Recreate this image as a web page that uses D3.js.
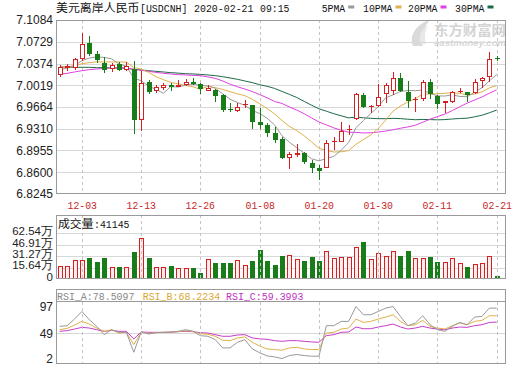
<!DOCTYPE html>
<html><head><meta charset="utf-8">
<script src="https://cdn.jsdelivr.net/npm/d3@7"></script>
<style>body{margin:0;background:#fff}svg{display:block}</style>
</head><body>
<svg id="c" width="520" height="365"></svg>
<script>
// ---------- data ----------
const tickIdx = [3, 11, 19, 27, 35, 43, 51, 59];
const tickLabels = ["12-03","12-13","12-26","01-08","01-20","01-30","02-11","02-21"];
const priceTicks = [7.1084,7.0729,7.0374,7.0019,6.9664,6.9310,6.8955,6.8600,6.8245];
const priceTickLabels = ["7.1084","7.0729","7.0374","7.0019","6.9664","6.9310","6.8955","6.8600","6.8245"];
const volTicks = [0,156350,312700,469050,625400];
const volTickLabels = ["0","15.64万","31.27万","46.91万","62.54万"];
const rsiTicks = [97,49,2];
const rsiTickLabels = ["97","49","2"];

const open = [7.0187,7.0300,7.0295,7.0440,7.0714,7.0524,7.0388,7.0279,7.0366,7.0268,
7.0279,6.9452,7.0072,6.9926,6.9980,7.0018,6.9996,7.0023,7.0067,7.0034,
6.9925,6.9937,6.9855,6.9637,6.9605,6.9692,6.9692,6.9420,6.9376,6.9246,
6.9143,6.8833,6.8876,6.8920,6.8757,6.8664,6.8675,6.9099,6.9099,6.9290,
6.9469,6.9860,6.9665,6.9680,6.9877,6.9930,7.0132,6.9915,6.9780,6.9790,
7.0078,6.9845,6.9735,6.9752,6.9915,6.9915,6.9888,7.0094,7.0150,7.0459];
const high = [7.0344,7.0370,7.0460,7.0866,7.0823,7.0584,7.0486,7.0388,7.0404,7.0404,
7.0420,7.0257,7.0105,7.0023,7.0050,7.0050,7.0105,7.0116,7.0132,7.0050,
7.0018,6.9960,6.9877,6.9724,6.9735,6.9780,6.9700,6.9643,6.9398,6.9333,
6.9180,6.8936,6.9060,6.8936,6.8800,6.8718,6.9126,6.9180,6.9414,6.9371,
6.9890,6.9900,6.9692,7.0040,7.0060,7.0230,7.0225,7.0090,6.9823,7.0105,
7.0116,6.9860,6.9757,6.9930,6.9975,6.9915,7.0122,7.0160,7.0570,7.0497];
const low = [7.0160,7.0260,7.0270,7.0420,7.0497,7.0388,7.0225,7.0230,7.0257,7.0250,
6.9224,6.9278,6.9877,6.9898,6.9942,6.9931,6.9990,7.0012,7.0023,6.9877,
6.9920,6.9752,6.9590,6.9583,6.9590,6.9643,6.9300,6.9300,6.9180,6.9083,
6.8810,6.8658,6.8855,6.8735,6.8582,6.8473,6.8664,6.8963,6.9099,6.9208,
6.9450,6.9643,6.9561,6.9660,6.9725,6.9860,6.9915,6.9643,6.9590,6.9763,
6.9790,6.9627,6.9572,6.9735,6.9898,6.9752,6.9877,6.9970,7.0080,7.0420];
const close = [7.0323,7.0330,7.0442,7.0690,7.0529,7.0431,7.0268,7.0344,7.0268,7.0340,
6.9452,7.0062,6.9915,6.9985,7.0030,6.9996,7.0023,7.0078,7.0045,6.9953,
6.9980,6.9844,6.9616,6.9616,6.9670,6.9714,6.9425,6.9365,6.9235,6.9126,
6.8827,6.8898,6.8920,6.8773,6.8675,6.8626,6.9083,6.9115,6.9273,6.9306,
6.9877,6.9660,6.9680,6.9820,7.0023,7.0132,6.9930,6.9770,6.9800,7.0067,
6.9877,6.9714,6.9757,6.9904,6.9930,6.9860,7.0073,7.0132,7.0448,7.0455];
const volume = [174000,174000,254000,254000,286000,232000,286000,165000,161000,161000,
366000,558000,286000,161000,161000,174000,147000,147000,147000,80000,
277000,214000,214000,214000,263000,196000,246000,402000,241000,187000,
321000,335000,268000,241000,299000,241000,388000,286000,295000,299000,
442000,500000,268000,357000,321000,384000,308000,388000,286000,286000,
295000,228000,228000,281000,214000,161000,201000,223000,317000,41145];

const ma5 = [7.0270,7.0300,7.0340,7.0420,7.0463,7.0484,7.0472,7.0452,7.0368,7.0330,
7.0134,7.0093,7.0007,6.9951,6.9889,6.9998,6.9990,7.0022,7.0034,7.0019,
7.0007,6.9971,6.9879,6.9793,6.9737,6.9692,6.9608,6.9558,6.9482,6.9373,
6.9196,6.9090,6.9001,6.8909,6.8819,6.8786,6.8823,6.8859,6.8959,6.9085,
6.9328,6.9443,6.9559,6.9669,6.9812,6.9863,6.9917,6.9935,6.9931,6.9940,
6.9889,6.9846,6.9843,6.9864,6.9836,6.9833,6.9905,6.9980,7.0089,7.0194];
const ma10 = [7.0310,7.0320,7.0340,7.0370,7.0390,7.0400,7.0400,7.0400,7.0400,7.0397,
7.0309,7.0283,7.0230,7.0159,7.0110,7.0066,7.0042,7.0015,6.9993,6.9954,
7.0002,6.9981,6.9951,6.9914,6.9878,6.9850,6.9790,6.9719,6.9638,6.9555,
6.9444,6.9349,6.9280,6.9195,6.9096,6.8991,6.8957,6.8930,6.8934,6.8952,
6.9057,6.9133,6.9209,6.9314,6.9449,6.9595,6.9680,6.9747,6.9800,6.9876,
6.9876,6.9881,6.9889,6.9897,6.9888,6.9861,6.9875,6.9911,6.9976,7.0015];
const ma20 = [7.0198,7.0214,7.0236,7.0257,7.0274,7.0285,7.0295,7.0301,7.0306,7.0301,
7.0279,7.0263,7.0246,7.0230,7.0214,7.0203,7.0192,7.0187,7.0181,7.0175,
7.0156,7.0132,7.0090,7.0037,6.9994,6.9958,6.9916,6.9867,6.9815,6.9754,
6.9723,6.9665,6.9615,6.9555,6.9487,6.9420,6.9373,6.9324,6.9286,6.9253,
6.9250,6.9241,6.9244,6.9255,6.9272,6.9293,6.9318,6.9339,6.9367,6.9414,
6.9466,6.9507,6.9549,6.9606,6.9668,6.9728,6.9778,6.9829,6.9888,6.9946];
const ma30 = [7.0317,7.0317,7.0312,7.0312,7.0312,7.0306,7.0306,7.0301,7.0301,7.0295,
7.0279,7.0268,7.0257,7.0246,7.0236,7.0225,7.0217,7.0208,7.0203,7.0197,
7.0187,7.0176,7.0159,7.0138,7.0116,7.0089,7.0062,7.0029,7.0002,6.9968,
6.9919,6.9871,6.9820,6.9756,6.9694,6.9635,6.9596,6.9555,6.9521,6.9487,
6.9501,6.9488,6.9480,6.9474,6.9474,6.9479,6.9475,6.9465,6.9457,6.9461,
6.9459,6.9455,6.9459,6.9469,6.9477,6.9482,6.9504,6.9530,6.9570,6.9614];

const rsiA = [61.4,62.6,74.5,88.1,73.3,61.4,46.5,55.4,50.7,50.7,
15.0,51.3,47.7,50.1,50.7,50.7,52.5,55.4,52.5,44.7,
43.6,37.6,22.8,22.8,32.9,37.6,21.0,14.0,8.5,6.7,
3.7,9.1,10.9,9.1,7.9,7.9,62.6,62.6,70.3,70.3,
97.0,82.2,82.2,88.1,94.1,97.0,79.2,62.6,67.3,80.4,
64.3,55.4,52.5,61.4,68.5,64.3,78.0,79.2,94.1,94.1];
const rsiB = [55.4,57.8,63.8,70.3,65.5,58.4,52.5,55.4,49.5,50.7,
28.7,51.3,48.3,50.1,50.7,50.7,51.9,53.7,52.5,48.3,
47.1,43.6,36.4,35.8,40.6,42.4,32.9,26.0,21.0,19.8,
18.6,22.8,24.0,21.0,19.8,19.8,49.5,50.7,56.6,58.4,
74.5,68.5,70.3,74.5,78.0,82.2,70.3,62.6,64.3,72.1,
61.4,58.4,56.6,62.6,67.3,64.3,70.3,72.1,80.4,80.4];
const rsiC = [52.5,53.7,56.6,59.6,58.4,55.4,52.5,54.3,52.5,52.5,
38.8,51.3,50.7,50.7,50.7,51.3,51.9,52.5,51.9,50.1,
49.5,46.5,43.6,43.6,45.9,46.5,40.6,39.0,38.2,35.8,
34.6,35.8,35.8,34.6,33.5,32.9,44.7,46.5,50.7,51.3,
60.2,57.2,57.2,60.2,62.6,65.5,60.2,56.6,58.4,61.4,
58.4,56.6,55.4,58.4,60.2,59.6,62.6,64.3,68.5,69.1];

// ---------- colors ----------
const RED = "#d42020", GREEN = "#187d18";
const C_MA5 = "#9a9a9a", C_MA10 = "#e0b04a", C_MA20 = "#e040e0", C_MA30 = "#1d6b45";
const GRID = "#d8d8d8", BORDER = "#9a9a9a", VGRID = "#c4c4c4";

// ---------- layout ----------
const L = 56, R = 506;
const svg = d3.select("#c");
const x = d3.scaleLinear().domain([-0.5, 60.25]).range([L, R]);
const yP = d3.scaleLinear().domain([6.8245, 7.1084]).range([194, 20]);
const yV = d3.scaleLinear().domain([0, 625400]).range([279, 233.3]);
const yR = d3.scaleLinear().domain([2, 97]).range([359.5, 306.5]);
const idx = d3.range(open.length);
const px = i => Math.round(x(i));

function monoText(g, x0, y, str, fill) {
  // SimSun-like layout: ASCII 6px, CJK 12px
  const runs = str.match(/[\u0021-\u00ff]+|\u0020+|[^\u0000-\u00ff]+/g);
  let cx = x0;
  runs.forEach(r => {
    const ascii = /^[\u0000-\u00ff]/.test(r);
    const w = ascii ? r.length * 6 : r.length * 12;
    if (r.trim().length) {
      g.append("text").attr("x", cx).attr("y", y).text(r)
        .attr("font-family", ascii ? "'Liberation Mono','DejaVu Sans Mono',monospace" : "'Noto Sans CJK SC',sans-serif")
        .attr("font-size", ascii ? 10.5 : 11.5).attr("fill", fill)
        .attr("textLength", w - 0.5).attr("lengthAdjust", "spacingAndGlyphs");
    }
    cx += w;
  });
}

function panel(top, bottom) {
  svg.append("rect").attr("x", L + 0.5).attr("y", top + 0.5)
    .attr("width", R - L - 1).attr("height", bottom - top)
    .attr("fill", "none").attr("stroke", BORDER);
}
function vgrid(top, bottom) {
  svg.append("g").selectAll("line").data(tickIdx).join("line")
    .attr("x1", i => px(i) + 0.5).attr("x2", i => px(i) + 0.5)
    .attr("y1", top).attr("y2", bottom)
    .attr("stroke", VGRID).attr("stroke-dasharray", "3,3");
}
const axisFont = "'Liberation Sans',Arial,sans-serif";

// ---------- title & legend ----------
const head = svg.append("g");
monoText(head, 56, 12, "美元离岸人民币[USDCNH] 2020-02-21 09:15", "#111");
const legend = [["5PMA", C_MA5, 321.7], ["10PMA", C_MA10, 363], ["20PMA", C_MA20, 408], ["30PMA", C_MA30, 455]];
legend.forEach(([t, c, lx]) => {
  monoText(head, lx, 12, t, "#111");
  head.append("rect").attr("x", lx + t.length * 6 + 2.5).attr("y", 5.5).attr("width", 6).attr("height", 3).attr("fill", c);
});

// ---------- watermark ----------
const wm = svg.append("g");
wm.append("path").attr("d", "M413,46 C409,36 415,25 431,19 C424,26 420,35 423,46 Z").attr("fill", "#dadada");
wm.append("path").attr("d", "M421,44 C418,36 421,29 428,25 C425,31 424,37 426,44 Z").attr("fill", "#e8e8e8");
wm.append("text").attr("x", 434).attr("y", 35).text("东方财富网")
  .attr("font-family", "'Noto Sans CJK SC',sans-serif").attr("font-weight", "bold")
  .attr("font-size", 13.5).attr("fill", "#d4d4d4").attr("textLength", 72).attr("lengthAdjust", "spacingAndGlyphs");
wm.append("text").attr("x", 434).attr("y", 46).text("eastmoney.com")
  .attr("font-family", axisFont).attr("font-weight", "bold").attr("font-style", "italic")
  .attr("font-size", 8.5).attr("fill", "#d8d8d8").attr("textLength", 72).attr("lengthAdjust", "spacingAndGlyphs");

// ---------- price panel ----------
const gp = svg.append("g");
gp.selectAll("line.h").data(priceTicks.slice(1, -1)).join("line")
  .attr("x1", L).attr("x2", R).attr("y1", d => Math.round(yP(d)) + 0.5).attr("y2", d => Math.round(yP(d)) + 0.5)
  .attr("stroke", GRID);
vgrid(20, 194);
gp.selectAll("text.yl").data(priceTicks).join("text")
  .attr("x", 53).attr("y", d => yP(d)).attr("dy", "0.36em").attr("text-anchor", "end")
  .attr("font-family", axisFont).attr("font-size", 12).attr("fill", "#222")
  .text((d, k) => priceTickLabels[k]);
tickIdx.forEach((ti, k) => monoText(svg, px(ti) + 0.5 - 15, 208.5, tickLabels[k], "#c81e1e"));

svg.append("clipPath").attr("id", "cp").append("rect").attr("x", L).attr("y", 20).attr("width", R - L).attr("height", 174);
const maLine = arr => d3.line().x((d, i) => x(i)).y(d => yP(d))(arr);
const gl = svg.append("g").attr("clip-path", "url(#cp)");
[[ma30, C_MA30], [ma20, C_MA20], [ma10, C_MA10], [ma5, C_MA5]].forEach(([a, c]) => {
  gl.append("path").attr("d", maLine(a)).attr("fill", "none").attr("stroke", c).attr("stroke-width", 1);
});

const gc = svg.append("g");
idx.forEach(i => {
  const up = close[i] >= open[i];
  const col = up ? RED : GREEN;
  const c = px(i);
  const yh = Math.round(yP(high[i])), yl = Math.round(yP(low[i]));
  const yt = Math.round(yP(Math.max(open[i], close[i]))), yb = Math.round(yP(Math.min(open[i], close[i])));
  gc.append("line").attr("x1", c + 0.5).attr("x2", c + 0.5).attr("y1", yh).attr("y2", yl).attr("stroke", col);
  if (yb - yt < 2) {
    gc.append("rect").attr("x", c - 2).attr("y", yt).attr("width", 5).attr("height", Math.max(1, yb - yt)).attr("fill", col);
  } else if (up) {
    gc.append("rect").attr("x", c - 1.5).attr("y", yt + 0.5).attr("width", 4).attr("height", yb - yt - 1)
      .attr("fill", "#fff").attr("stroke", col);
  } else {
    gc.append("rect").attr("x", c - 2).attr("y", yt).attr("width", 5).attr("height", yb - yt).attr("fill", col);
  }
});
panel(20, 193);

// ---------- volume panel ----------
const gv = svg.append("g");
gv.selectAll("line").data(volTicks.slice(1)).join("line")
  .attr("x1", L).attr("x2", R).attr("y1", d => Math.round(yV(d)) + 0.5).attr("y2", d => Math.round(yV(d)) + 0.5)
  .attr("stroke", GRID);
vgrid(215, 279);
gv.selectAll("text").data(volTicks).join("text")
  .attr("x", 53).attr("y", d => yV(d) - 2).attr("dy", "0.34em").attr("text-anchor", "end")
  .attr("font-family", axisFont).attr("font-size", 11.5).attr("fill", "#222")
  .text((d, k) => volTickLabels[k]);
idx.forEach(i => {
  const up = close[i] >= open[i];
  const c = px(i);
  const yt = Math.round(yV(volume[i])), yb = Math.round(yV(0));
  if (up) {
    gv.append("rect").attr("x", c - 1.5).attr("y", yt + 0.5).attr("width", 4).attr("height", Math.max(1, yb - yt - 1))
      .attr("fill", "#fdecec").attr("stroke", RED);
  } else {
    gv.append("rect").attr("x", c - 2).attr("y", yt).attr("width", 5).attr("height", yb - yt).attr("fill", GREEN);
  }
});
panel(215, 278);
monoText(svg, 58, 228, "成交量:41145", "#111");

// ---------- RSI panel ----------
const gr = svg.append("g");
gr.append("line").attr("x1", L).attr("x2", R).attr("y1", 301.5).attr("y2", 301.5).attr("stroke", BORDER);
gr.append("line").attr("x1", L).attr("x2", R).attr("y1", Math.round(yR(49)) + 0.5).attr("y2", Math.round(yR(49)) + 0.5).attr("stroke", GRID);
vgrid(302, 364);
gr.selectAll("text").data(rsiTicks).join("text")
  .attr("x", 53).attr("y", d => Math.min(yR(d), 358.5)).attr("dy", "0.36em").attr("text-anchor", "end")
  .attr("font-family", axisFont).attr("font-size", 12).attr("fill", "#222")
  .text((d, k) => rsiTickLabels[k]);
const rLine = arr => d3.line().x((d, i) => x(i)).y(d => yR(d))(arr);
[[rsiC, "#c83cc8"], [rsiB, "#e0b04a"], [rsiA, "#999"]].forEach(([a, c]) => {
  gr.append("path").attr("d", rLine(a)).attr("fill", "none").attr("stroke", c).attr("stroke-width", 1);
});
panel(289, 363);
monoText(svg, 57, 299.5, "RSI_A:78.5097", "#888");
monoText(svg, 142.7, 299.5, "RSI_B:68.2234", "#d9a730");
monoText(svg, 226, 299.5, "RSI_C:59.3993", "#c030c0");
</script>
</body></html>
